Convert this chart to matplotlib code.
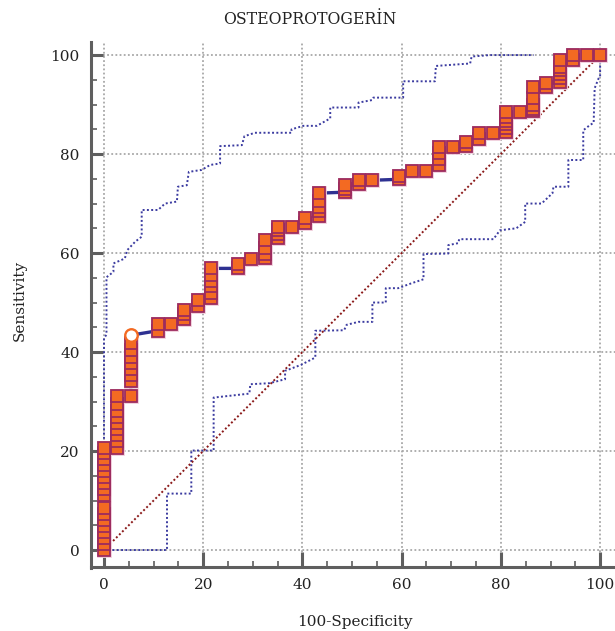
import matplotlib
matplotlib.use("Agg")
import matplotlib.pyplot as plt
from matplotlib.ticker import MultipleLocator

plt.rcParams['font.family'] = ['DejaVu Serif']

title = "OSTEOPROTOGERİN"
x_label = "100-Specificity"
y_label = "Sensitivity"
tick_values = [0, 20, 40, 60, 80, 100]

# ROC points (100-Specificity, Sensitivity)
roc_fpr = [0, 0, 0, 0, 0, 0, 0, 0, 0, 0, 0, 0, 0, 0, 0, 0, 0,
           2.70, 2.70, 2.70, 2.70, 2.70, 2.70, 2.70, 2.70, 2.70,
           5.41, 5.41, 5.41, 5.41, 5.41, 5.41, 5.41, 5.41, 5.41,
           10.81, 10.81, 13.51, 16.22, 16.22, 16.22, 18.92, 18.92,
           21.62, 21.62, 21.62, 21.62, 21.62, 21.62,
           27.03, 27.03, 29.73, 32.43, 32.43, 32.43, 32.43,
           35.14, 35.14, 35.14, 35.14, 37.84, 40.54, 40.54,
           43.24, 43.24, 43.24, 43.24, 43.24,
           48.65, 48.65, 48.65, 51.35, 51.35, 54.05, 59.46, 59.46,
           62.16, 64.86, 67.57, 67.57, 67.57, 67.57, 70.27,
           72.97, 72.97, 75.68, 75.68, 78.38,
           81.08, 81.08, 81.08, 81.08, 81.08, 81.08, 83.78,
           86.49, 86.49, 86.49, 86.49, 86.49, 89.19, 89.19,
           91.89, 91.89, 91.89, 91.89, 91.89, 91.89,
           94.59, 94.59, 97.30, 100]
roc_tpr = [0, 1.2, 2.4, 3.6, 4.8, 6.0, 7.2, 8.4, 11.1, 12.3, 13.5, 14.7, 15.9, 17.1, 18.3, 19.5, 20.7,
           20.7, 22.0, 23.2, 24.4, 25.6, 26.8, 28.0, 29.6, 31.1,
           31.1, 34.1, 35.3, 36.5, 37.7, 39.0, 40.4, 41.9, 43.4,
           44.3, 45.7, 45.7, 46.6, 47.6, 48.5, 49.2, 50.5,
           51.0, 52.0, 53.3, 54.4, 55.6, 56.9,
           56.9, 57.8, 58.7, 59.0, 59.8, 61.0, 62.6,
           63.0, 63.9, 64.6, 65.3, 65.3, 66.0, 67.1,
           67.4, 68.4, 69.4, 70.5, 72.1,
           72.3, 73.0, 73.7, 73.9, 74.7, 74.7, 74.9, 75.6,
           76.6, 76.6, 77.8, 79.0, 80.2, 81.5, 81.5,
           81.7, 82.4, 83.0, 84.2, 84.2,
           84.4, 85.3, 86.0, 86.7, 87.5, 88.5, 88.5,
           88.6, 89.2, 89.9, 91.4, 93.5, 93.6, 94.3,
           94.5, 95.3, 96.1, 96.9, 97.6, 99.0,
           99.0, 100, 100, 100]

# optimal criterion point
best_fpr = 5.41
best_tpr = 43.4

# upper confidence band
upper_fpr = [0, 0, 0.5, 0.5, 1.9, 1.9, 4.2, 4.7, 6.3, 7.6, 7.6, 10.9, 12.3, 14.7, 14.9,
             16.7, 17.1, 19.7, 21.4, 23.4, 23.4, 27.8, 28.3, 30.4, 37.8, 37.8, 39.5,
             40.2, 42.9, 45.6, 45.6, 51.3, 51.3, 54.0, 54.3, 60.3, 60.3, 66.7, 66.9,
             73.8, 74.1, 77.8, 86.6]
upper_tpr = [0, 42.8, 43.5, 55.1, 56.2, 57.9, 58.9, 60.6, 62.3, 63.3, 68.7, 68.7, 70.0,
             70.4, 73.4, 73.7, 76.4, 76.8, 77.8, 78.1, 81.6, 81.8, 83.6, 84.3, 84.3,
             85.0, 85.5, 85.7, 85.7, 87.2, 89.4, 89.4, 90.4, 90.9, 91.4, 91.4, 94.7,
             94.7, 97.8, 98.3, 99.7, 100, 100]

# lower confidence band
lower_fpr = [0, 12.7, 12.7, 17.6, 17.6, 22.1, 22.1, 29.3, 29.5, 33.3, 36.5, 36.5, 39.7,
             42.6, 42.6, 48.4, 48.9, 51.3, 54.1, 54.1, 56.8, 56.8, 59.3, 62.0, 64.4,
             64.4, 69.4, 69.4, 71.4, 71.6, 78.5, 79.8, 83.1, 84.9, 84.9, 88.2, 90.4,
             90.6, 93.6, 93.6, 96.6, 96.6, 98.0, 98.7, 98.9, 99.7, 100, 100]
lower_tpr = [0, 0, 11.4, 11.4, 20.1, 20.1, 30.8, 31.6, 33.5, 33.7, 34.5, 36.2, 37.4,
             38.9, 44.3, 44.4, 45.5, 46.1, 46.1, 50.0, 50.0, 52.9, 52.9, 53.9, 54.7,
             59.8, 59.9, 61.6, 62.0, 62.8, 62.8, 64.6, 65.0, 66.3, 70.0, 70.0, 72.1,
             73.4, 73.4, 78.8, 78.8, 84.8, 85.9, 86.3, 93.3, 95.3, 95.6, 99.5]

diag = [0, 100]

W, H = 615, 631
fig = plt.figure(figsize=(W / 100, H / 100), dpi=100)
ax = fig.add_axes([102.5 / W, 1 - 551.5 / H, 512.5 / W, 509.8 / H])
ax.set_xlim(-0.3, 103)
ax.set_ylim(-0.3, 102.7)

grid_col = '#a8a8a8'
for v in tick_values:
    ax.axvline(v, color=grid_col, lw=1.3, ls=(0, (1, 1.3)), zorder=1)
    ax.axhline(v, color=grid_col, lw=1.3, ls=(0, (1, 1.3)), zorder=1)

band_col = '#3b3ba0'
ax.plot(upper_fpr, upper_tpr, color=band_col, lw=1.4, ls=(0, (1, 1.2)), zorder=2)
ax.plot(lower_fpr, lower_tpr, color=band_col, lw=1.4, ls=(0, (1, 1.2)), zorder=2)
ax.plot(diag, diag, color='#8b1a1a', lw=1.4, ls=(0, (1, 1.2)), zorder=2)

ax.plot(roc_fpr, roc_tpr, color='#2e3192', lw=2.4, zorder=3, solid_capstyle='butt')

# squares for every point except the optimal criterion (drawn as circle)
sq_x = [x for x, y in zip(roc_fpr, roc_tpr) if not (x == best_fpr and y == best_tpr)]
sq_y = [y for x, y in zip(roc_fpr, roc_tpr) if not (x == best_fpr and y == best_tpr)]
ax.plot(sq_x, sq_y, ls='none', marker='s', ms=8.6, mfc='none', mec='#f0cddb',
        mew=2.0, zorder=4, clip_on=False)
ax.plot(sq_x, sq_y, ls='none', marker='s', ms=8.4, mfc='#f36a22', mec='#9c2b5e',
        mew=1.3, zorder=5, clip_on=False)
ax.plot([best_fpr], [best_tpr], ls='none', marker='o', ms=9.0, mfc='white', mec='#f36a22',
        mew=1.7, zorder=6, clip_on=False)

spine_col = '#5f5f5f'
for s in ['top', 'right']:
    ax.spines[s].set_visible(False)
ax.spines['left'].set_position(('outward', 8.3))
ax.spines['bottom'].set_position(('outward', 11))
ax.spines['left'].set_linewidth(2.2)
ax.spines['bottom'].set_linewidth(2.2)
ax.spines['left'].set_color(spine_col)
ax.spines['bottom'].set_color(spine_col)
ax.spines['bottom'].set_bounds(-2.6, 103)
ax.spines['left'].set_bounds(-3.6, 102.7)

ax.set_xticks(tick_values)
ax.set_yticks(tick_values)
ax.xaxis.set_minor_locator(MultipleLocator(5))
ax.yaxis.set_minor_locator(MultipleLocator(5))
ax.tick_params(which='major', direction='in', length=8.6, width=2.2, color=spine_col,
               labelsize=11, pad=8, labelcolor='#222222')
ax.tick_params(which='minor', direction='in', length=4.3, width=1.2, color=spine_col)
ax.tick_params(axis='x', which='major', length=10.5)

ax.set_xlabel(x_label, fontsize=11, color='#222222')
ax.xaxis.set_label_coords(0.4927, -0.138)
ax.xaxis.label.set_va('center')
ax.set_ylabel(y_label, fontsize=11, color='#222222')
ax.yaxis.set_label_coords(-0.161, 0.493)
ax.yaxis.label.set_va('center')

fig.text(310 / W, 1 - 19 / H, title, ha='center', va='center', fontsize=11.3, color='#222222')

fig.savefig('out.png', dpi=100)
